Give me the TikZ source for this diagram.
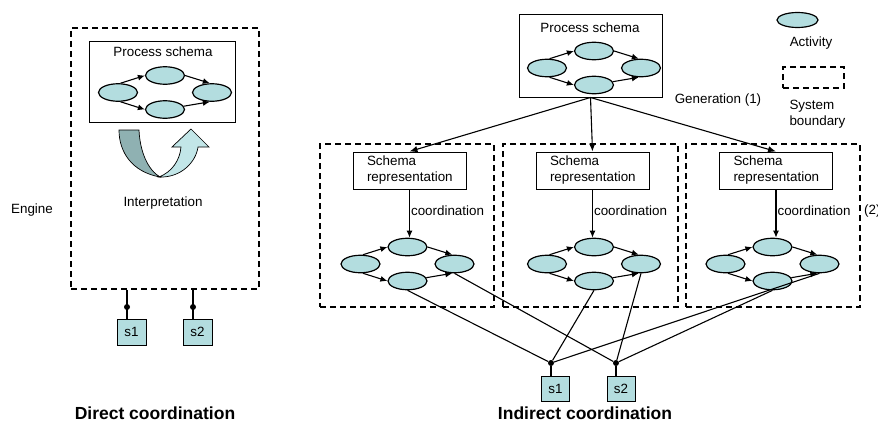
\documentclass[tikz,border=0pt]{standalone}
\usepackage{fontspec}
\setmainfont{Liberation Sans}
\usetikzlibrary{arrows.meta,shapes.geometric}

\definecolor{actfill}{HTML}{B3DDDF}
\definecolor{banddark}{HTML}{8FB1B2}
\definecolor{bandlight}{HTML}{C2E6E8}

\tikzset{
  act/.style={ellipse, draw, line width=1.2pt, fill=actfill,
    minimum width=39pt, minimum height=17.5pt, inner sep=0pt},
  flow/.style={-{Latex[length=7pt,width=6pt]}, line width=1.1pt},
  genarrow/.style={-{Latex[length=8pt,width=6.5pt]}, line width=1.1pt},
  boundary/.style={draw, dash pattern=on 6pt off 4pt, line width=1.4pt},
  frame/.style={draw, line width=1pt, fill=white, inner sep=0pt},
  sensor/.style={draw, line width=1pt, fill=actfill, inner sep=0pt},
  wire/.style={line width=1.1pt},
  junction/.style={circle, fill=black, inner sep=0pt, minimum size=6pt},
  title/.style={font=\fontsize{17.5}{20}\selectfont\bfseries},
  schemabox/.style={frame, minimum width=113pt, minimum height=37pt,
    text width=85pt, align=left},
  % four activities: start, upper, end, lower
  procnet/.pic={
    \node[act] (-l) at (-47,0) {};
    \node[act] (-t) at (0,-17) {};
    \node[act] (-r) at (47,0) {};
    \node[act] (-b) at (0,17) {};
    \draw[flow] (-l.75) -- (-t.west);
    \draw[flow] (-l.285) -- (-b.west);
    \draw[flow] (-t.east) -- (-r.103);
    \draw[flow] (-b.10) -- (-r.257);
  }
}

\begin{document}
\begin{tikzpicture}[x=1pt,y=-1pt,font=\fontsize{13.4}{16}\selectfont]
\useasboundingbox (0,0) rectangle (878,423);

% ---------------- direct coordination ----------------
\node[boundary, minimum width=188pt, minimum height=261pt] (eng) at (165,158.5) {};
\node[frame, minimum width=146pt, minimum height=81pt] (psA) at (162,81.5) {};
\node (psAt) at (163,52) {Process schema};
\pic (A) at (165,92.5) {procnet};

% interpretation loop
\filldraw[fill=bandlight, line width=0.7pt]
  (159,177) .. controls (181,178) and (196,162) .. (198,147)
  -- (209,147) -- (191,129) -- (172,147) -- (181,147)
  .. controls (180,160) and (172,172) .. (159,177) -- cycle;
\filldraw[fill=banddark, line width=0.7pt]
  (119,130) -- (139,130) .. controls (140,152) and (148,170) .. (160,177)
  .. controls (132,172) and (119,152) .. (119,130) -- cycle;

\node (interp) at (163,203) {Interpretation};
\node (engine) at (32,210) {Engine};

\node[sensor, minimum width=29pt, minimum height=26pt] (As1) at (131.5,332) {s1};
\node[sensor, minimum width=29pt, minimum height=26pt] (As2) at (197.5,332) {s2};
\node[junction] (Ad1) at (127,307) {};
\node[junction] (Ad2) at (193,307) {};
\draw[wire] (Ad1 |- eng.south) -- (Ad1 |- As1.north);
\draw[wire] (Ad2 |- eng.south) -- (Ad2 |- As2.north);

\node[title] (dtitle) at (155,413) {Direct coordination};

% ---------------- indirect coordination ----------------
\node[frame, minimum width=143pt, minimum height=83pt] (psB) at (590.5,55.5) {};
\node (psBt) at (590,28) {Process schema};
\pic (B) at (594,68) {procnet};

% legend
\node[act, minimum width=41pt, minimum height=15pt] (legact) at (797.5,20) {};
\node (legactt) at (811,43) {Activity};
\node[boundary, minimum width=61pt, minimum height=21pt] (legsys) at (813.5,77.5) {};
\node[anchor=west, align=left] (legsyst) at (786,114) {System\\boundary};

\node (gen) at (718,100) {Generation (1)};
\node[anchor=west, inner sep=0pt] (two) at (864,211) {(2)};

% generated system boundaries
\node[boundary, minimum width=174pt, minimum height=163pt] (bL) at (407,225.5) {};
\node[boundary, minimum width=175pt, minimum height=163pt] (bM) at (590.5,225.5) {};
\node[boundary, minimum width=174pt, minimum height=163pt] (bR) at (773,225.5) {};

\node[schemabox] (srL) at (409.5,170.5) {Schema\\representation};
\node[schemabox] (srM) at (592.5,170.5) {Schema\\representation};
\node[schemabox] (srR) at (776,170.5) {Schema\\representation};

\draw[genarrow] (psB.south) -- (srL.north);
\draw[genarrow] (psB.south) -- (srM.north);
\draw[genarrow] (psB.south) -- (srR.north);

\pic (L) at (407.5,264) {procnet};
\pic (M) at (594,264) {procnet};
\pic (R) at (772.5,264) {procnet};

\draw[flow] (srL.south) -- (srL.south |- L-t.north)
  node[pos=0.44, anchor=west, inner sep=1pt] {coordination};
\draw[flow] (srM.south) -- (srM.south |- M-t.north)
  node[pos=0.44, anchor=west, inner sep=1pt] {coordination};
\draw[flow] (srR.south) -- (srR.south |- R-t.north)
  node[pos=0.44, anchor=west, inner sep=1pt] {coordination};

% shared sensors
\node[sensor, minimum width=28pt, minimum height=25pt] (Bs1) at (555.5,388.5) {s1};
\node[sensor, minimum width=28pt, minimum height=25pt] (Bs2) at (621,388.5) {s2};
\node[junction] (Bd1) at (551,363) {};
\node[junction] (Bd2) at (616,363) {};

\draw[wire] (L-b.south) -- (Bd1);
\draw[wire] (L-r.south) -- (Bd2);
\draw[wire] (M-b.south) -- (Bd1);
\draw[wire] (M-r.south) -- (Bd2);
\draw[wire] (R-r.south) -- (Bd1);
\draw[wire] (R-b.south) -- (Bd2);
\draw[wire] (Bd1) -- (Bd1 |- Bs1.north);
\draw[wire] (Bd2) -- (Bd2 |- Bs2.north);

\node[title] (ititle) at (585,413) {Indirect coordination};
\end{tikzpicture}
\end{document}
